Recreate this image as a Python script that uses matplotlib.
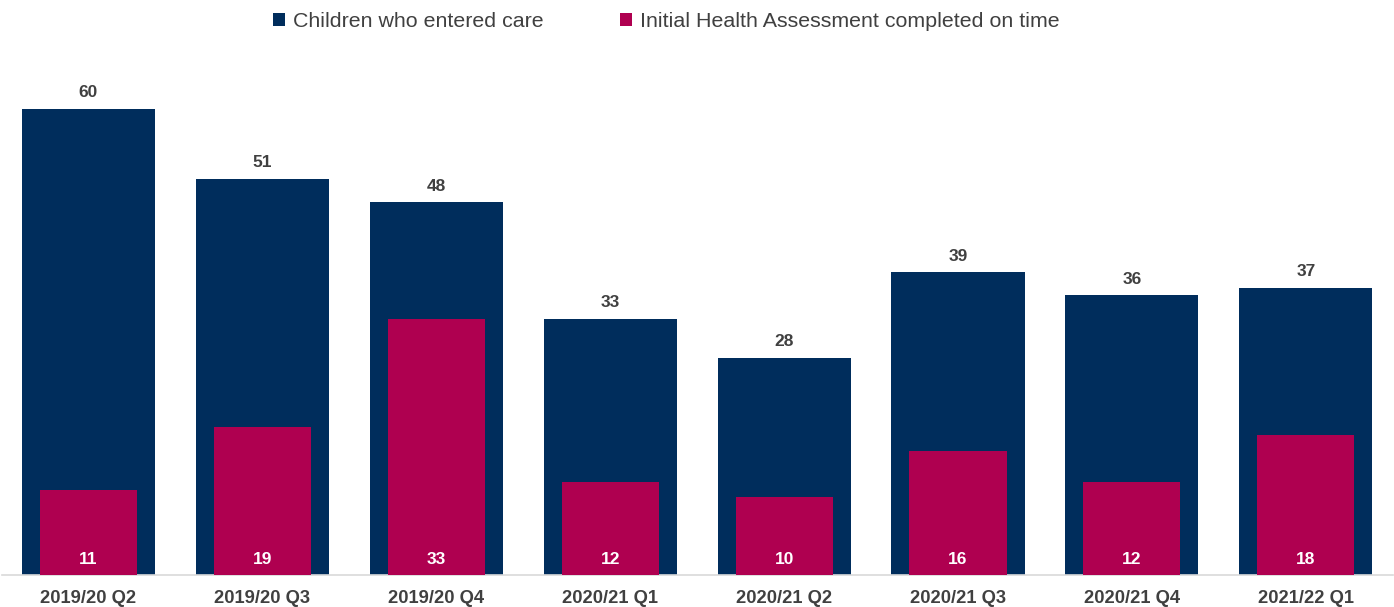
import matplotlib
matplotlib.use("Agg")
import matplotlib.pyplot as plt
from matplotlib.patches import Patch
import numpy as np

quarters = ["2019/20 Q2", "2019/20 Q3", "2019/20 Q4", "2020/21 Q1",
            "2020/21 Q2", "2020/21 Q3", "2020/21 Q4", "2021/22 Q1"]
entered_care = [60, 51, 48, 33, 28, 39, 36, 37]
iha_on_time = [11, 19, 33, 12, 10, 16, 12, 18]

NAVY = "#002D5C"
PINK = "#AF0050"
TEXT = "#404040"

plt.rcParams["font.family"] = ["Liberation Sans", "DejaVu Sans"]

fig = plt.figure(figsize=(13.94, 6.07), dpi=100)
ax = fig.add_axes([0.0011, 0.0527, 0.998, 0.8484])

x = np.arange(len(quarters))
ax.bar(x, entered_care, width=0.765, color=NAVY, zorder=2)
ax.bar(x, iha_on_time, width=0.558, color=PINK, zorder=3)

for xi, v in zip(x, entered_care):
    ax.annotate(f"{v}", (xi, v), xytext=(0, 11.5), textcoords="offset points",
                ha="center", va="center", fontsize=12.5, fontweight="bold", color=TEXT)
for xi, v in zip(x, iha_on_time):
    ax.annotate(f"{v}", (xi, 0), xytext=(0, 11.5), textcoords="offset points",
                ha="center", va="center", fontsize=12.5, fontweight="bold", color="white",
                zorder=4)

ax.set_xlim(-0.5, len(quarters) - 0.5)
ax.set_ylim(0, 66.3)
ax.set_xticks(x)
ax.set_xticklabels(quarters, fontsize=13.2, fontweight="bold", color=TEXT)
ax.tick_params(axis="x", length=0, pad=11)
ax.set_yticks([])
for side in ["left", "right", "top"]:
    ax.spines[side].set_visible(False)
ax.spines["bottom"].set_color("#D9D9D9")
ax.spines["bottom"].set_linewidth(1.2)

handles = [Patch(facecolor=NAVY, label="Children who entered care"),
           Patch(facecolor=PINK, label="Initial Health Assessment completed on time")]
fig.legend(handles=handles, loc="center", bbox_to_anchor=(0.478, 0.965), ncol=2,
           frameon=False, fontsize=15.4, handlelength=0.55, handleheight=0.55,
           handletextpad=0.35, columnspacing=3.6, labelcolor=TEXT)

fig.savefig("out.png", dpi=100)
